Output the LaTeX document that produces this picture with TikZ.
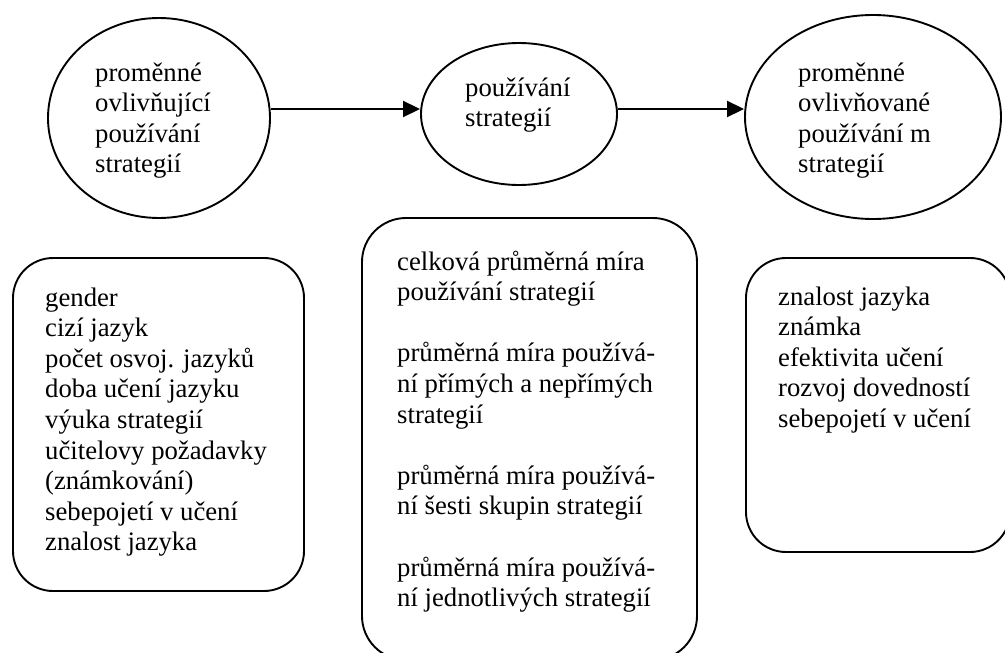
\documentclass[tikz,border=0pt]{standalone}
\usepackage{fontspec}
\setmainfont{Liberation Serif}
\usetikzlibrary{shapes.geometric,arrows.meta}

\begin{document}
\begin{tikzpicture}[
        x=1pt, y=-1pt,
        oval/.style={draw, ellipse, line width=1.9pt, inner sep=0pt},
        rbox/.style={draw, rectangle, rounded corners=40pt, line width=1.9pt, inner sep=0pt},
        txt/.style={anchor=base west, align=left, inner sep=0pt, font=\fontsize{26.7pt}{30.6pt}\selectfont},
        arr/.style={-{Triangle[length=17pt,width=16pt]}, line width=1.9pt},
    ]
    \useasboundingbox (0,0) rectangle (1005,653);
    \clip (0,0) rectangle (1005,653);

    % ellipses
    \node[oval, minimum width=222pt, minimum height=200pt](vstup) at (159,118) {};
    \node[oval, minimum width=196pt, minimum height=142pt](pouzit) at (519,114) {};
    \node[oval, minimum width=256pt, minimum height=204pt](vystup) at (873,117) {};

    % texts anchored at the baseline of their last line
    \node[txt](vstuptxt) at (95,172.8) {proměnné\\ ovlivňující\\ používání\\ strategií};
    \node[txt](pouzittxt) at (465,126.6) {používání\\ strategií};
    \node[txt](vystuptxt) at (798,172.8) {proměnné\\ ovlivňované\\ používání m\\ strategií};

    \draw[arr] ([yshift=9pt]vstup.east) -- ([yshift=5pt]pouzit.west);
    \draw[arr] ([yshift=5pt]pouzit.east) -- ([yshift=8pt]vystup.west);

    % boxes
    \node[rbox, minimum width=291pt, minimum height=333pt](vstupbox) at (158.5,424.5) {};
    \node[rbox, rounded corners=44pt, minimum width=335pt, minimum height=442pt](pouzitbox) at (529.5,439) {};
    \node[rbox, minimum width=264pt, minimum height=294pt](vystupbox) at (878,405) {};

    \node[txt](vstupboxtxt) at (45,550.8) {gender\\ cizí jazyk\\ počet osvoj. jazyků\\ doba učení jazyku\\ výuka strategií\\ učitelovy požadavky\\ (známkování)\\ sebepojetí v učení\\ znalost jazyka};
    \node[txt](pouzitboxtxt) at (397,606.6) {celková průměrná míra\\ používání strategií\\[30.6pt]
        průměrná míra používá-\\ ní přímých a nepřímých\\ strategií\\[30.6pt]
        průměrná míra používá-\\ ní šesti skupin strategií\\[30.6pt]
        průměrná míra používá-\\ ní jednotlivých strategií};
    \node[txt](vystupboxtxt) at (778,427.4) {znalost jazyka\\ známka\\ efektivita učení\\ rozvoj dovedností\\ sebepojetí v učení};

\end{tikzpicture}
\end{document}
